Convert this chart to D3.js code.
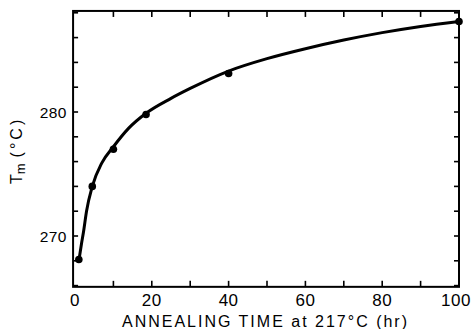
<!DOCTYPE html>
<html>
<head>
<meta charset="utf-8">
<script src="https://cdn.jsdelivr.net/npm/d3@7"></script>
<style>
  html, body { margin: 0; padding: 0; background: #fff; }
  svg { display: block; }
  text { font-family: "Liberation Sans", Arial, Helvetica, sans-serif; fill: #000; }
</style>
</head>
<body>
<svg id="chart" width="473" height="329"></svg>
<script>
// Measured data points
const annealTime = [1, 4.5, 10, 18.5, 40, 100];
const meltTemp   = [268.1, 274.0, 277.0, 279.8, 283.1, 287.3];

// Smooth drawn curve
const curveTime = [1, 1.7, 2.2, 3, 4.5, 7, 10, 14, 18.5, 25, 30, 40, 50, 60, 70, 80, 90, 100];
const curveTemp = [268.0, 269.4, 270.3, 272.0, 274.0, 275.9, 277.2, 278.7, 279.9, 281.1, 281.9, 283.3, 284.3, 285.1, 285.8, 286.4, 286.9, 287.3];

// Tick labels
const xTickLabels = [0, 20, 40, 60, 80, 100];
const yTickLabels = [270, 280];
const xTicks = [10, 20, 30, 40, 50, 60, 70, 80, 90];
const yTicks = [266, 268, 270, 272, 274, 276, 278, 280, 282, 284, 286, 288];

const xTitle = "ANNEALING TIME at 217\u00B0C (hr)";

(function () {
const svg = d3.select("#chart");
const x = d3.scaleLinear().domain([0, 100]).range([75, 459]);
const y = d3.scaleLinear().domain([270, 280]).range([236, 112]);

const pL = x(-0.5), pR = x(100), pT = y(288.15), pB = y(265.9);

// Frame
svg.append("rect")
  .attr("x", pL).attr("y", pT)
  .attr("width", pR - pL).attr("height", pB - pT)
  .attr("fill", "none").attr("stroke", "#000").attr("stroke-width", 2);

// Ticks (inward)
const tk = svg.append("g").attr("stroke", "#000").attr("stroke-width", 1.6);
xTicks.forEach(v => {
  tk.append("line").attr("x1", x(v)).attr("x2", x(v)).attr("y1", pB).attr("y2", pB - 6);
  tk.append("line").attr("x1", x(v)).attr("x2", x(v)).attr("y1", pT).attr("y2", pT + 6);
});
yTicks.forEach(v => {
  if (y(v) > pT + 1 && y(v) < pB - 1) {
    tk.append("line").attr("x1", pL).attr("x2", pL + 5).attr("y1", y(v)).attr("y2", y(v));
    tk.append("line").attr("x1", pR).attr("x2", pR - 5).attr("y1", y(v)).attr("y2", y(v));
  }
});

// X tick labels
svg.append("g").selectAll("text").data(xTickLabels).join("text")
  .attr("x", d => d === 100 ? x(d) - 3 : x(d)).attr("y", 306)
  .attr("text-anchor", "middle")
  .attr("font-size", 17)
  .style("letter-spacing", "0.5px")
  .text(d => d);

// Y tick labels
svg.append("g").selectAll("text").data(yTickLabels).join("text")
  .attr("x", 67).attr("y", d => y(d) + 6)
  .attr("text-anchor", "end")
  .attr("font-size", 15.5)
  .style("letter-spacing", "0.5px")
  .text(d => d);

// X title
svg.append("text")
  .attr("x", 122).attr("y", 327)
  .attr("font-size", 16)
  .attr("textLength", 285).attr("lengthAdjust", "spacing")
  .text(xTitle);

// Y title: T_m (°C)
const yt = svg.append("text")
  .attr("transform", "translate(22,184) rotate(-90)")
  .attr("font-size", 16);
yt.append("tspan").text("T");
yt.append("tspan").attr("font-size", 13).attr("dy", 3).text("m");
yt.append("tspan").attr("dy", -3).attr("dx", 6).style("letter-spacing", "3px").text("(\u00B0C)");

// Curve
const line = d3.line()
  .x((d, i) => x(curveTime[i]))
  .y(d => y(d))
  .curve(d3.curveMonotoneX);
svg.append("path")
  .attr("d", line(curveTemp))
  .attr("fill", "none").attr("stroke", "#000").attr("stroke-width", 3);

// Points
svg.append("g").selectAll("circle").data(meltTemp).join("circle")
  .attr("cx", (d, i) => x(annealTime[i]))
  .attr("cy", d => y(d))
  .attr("r", 3.8)
  .attr("fill", "#000");
})();
</script>
</body>
</html>
